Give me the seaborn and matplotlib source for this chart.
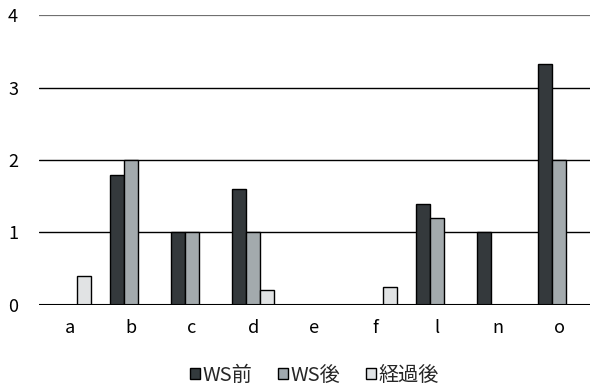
import matplotlib
matplotlib.use("Agg")
import matplotlib.pyplot as plt
from matplotlib.patches import Patch
import pandas as pd
import seaborn as sns

categories = ["a", "b", "c", "d", "e", "f", "l", "n", "o"]
ws_before = [0, 1.8, 1, 1.6, 0, 0, 1.4, 1, 3.33]
ws_after = [0, 2, 1, 1, 0, 0, 1.2, 0, 2]
elapsed = [0.4, 0, 0, 0.2, 0, 0.25, 0, 0, 0]
series_names = ["WS前", "WS後", "経過後"]
y_ticks = [0, 1, 2, 3, 4]

colors = ["#333a3d", "#a1aaaf", "#e0e3e5"]

sns.set_theme(style="white")
plt.rcParams["font.family"] = ["Noto Sans CJK JP", "DejaVu Sans"]

rows = []
for name, vals in zip(series_names, [ws_before, ws_after, elapsed]):
    for cat, v in zip(categories, vals):
        rows.append({"cat": cat, "series": name, "value": v})
df = pd.DataFrame(rows)

fig = plt.figure(figsize=(5.9, 3.87), dpi=100)
ax = fig.add_axes([0.066, 0.212, 0.934, 0.749])

sns.barplot(data=df, x="cat", y="value", hue="series", order=categories,
            hue_order=series_names, palette=colors, width=0.69,
            edgecolor="black", linewidth=1.0, ax=ax, legend=False)

# zero-valued bars leave no outline on the baseline
for p in ax.patches:
    if p.get_height() == 0:
        p.set_visible(False)

ax.set_ylim(0, 4)
ax.set_xlim(-0.5, len(categories) - 0.5)
ax.set_yticks(y_ticks)
for y in y_ticks[1:-1]:
    ax.axhline(y, color="black", linewidth=1.0, zorder=0)
ax.axhline(4, color="#707070", linewidth=1.6, zorder=0)
ax.axhline(0, color="black", linewidth=1.5, zorder=3)

for s in ["top", "right", "left", "bottom"]:
    ax.spines[s].set_visible(False)
ax.set_xlabel("")
ax.set_ylabel("")
ax.tick_params(axis="y", length=0, pad=15, labelsize=13, colors="black")
ax.tick_params(axis="x", length=0, pad=10, labelsize=13, colors="black")

handles = [Patch(facecolor=c, edgecolor="black", linewidth=1.0) for c in colors]
ax.legend(handles, series_names, loc="center", bbox_to_anchor=(0.5, -0.243),
          ncol=3, frameon=False, fontsize=14.5, handlelength=0.5, handleheight=0.5,
          handletextpad=0.1, columnspacing=1.3, borderaxespad=0)

fig.savefig("out.png", dpi=100)
